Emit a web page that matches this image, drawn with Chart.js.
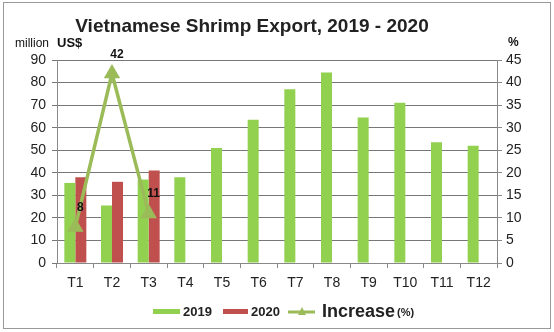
<!DOCTYPE html>
<html><head><meta charset="utf-8">
<script src="https://cdn.jsdelivr.net/npm/chart.js@4/dist/chart.umd.min.js"></script>
<style>html,body{margin:0;padding:0;background:#fff}#wrap{width:554px;height:332px;position:relative}</style>
</head><body><div id="wrap"><canvas id="c" width="554" height="332"></canvas></div>
<script>
const categories = ['T1','T2','T3','T4','T5','T6','T7','T8','T9','T10','T11','T12'];
const values2019 = [35.5, 25.5, 37, 38, 51, 63.5, 77, 84.5, 64.5, 71, 53.5, 52];
const values2020 = [38, 36, 41, null, null, null, null, null, null, null, null, null];
const increasePct = [8, 42, 11, null, null, null, null, null, null, null, null, null];
const leftTicks = [0,10,20,30,40,50,60,70,80,90];
const rightTicks = [0,5,10,15,20,25,30,35,40,45];

const GREEN = '#92D050', RED = '#C0504D', OLIVE = '#9BBB59';
const F = '"Liberation Sans", Arial, sans-serif';

const deco = {
  id: 'deco',
  afterDraw(chart) {
    const ctx = chart.ctx;
    ctx.save();
    // border
    ctx.strokeStyle = '#999'; ctx.lineWidth = 1;
    ctx.strokeRect(3.5, 2.5, 547, 326);
    // title
    ctx.fillStyle = '#222'; ctx.textBaseline = 'alphabetic'; ctx.textAlign = 'left';
    ctx.font = 'bold 19px ' + F;
    const t1 = 'Vietnamese Shrimp Export', t2 = ', 2019 - 2020';
    const w = ctx.measureText(t1 + t2).width;
    let x = 252 - w / 2;
    ctx.fillText(t1, x, 32);
    ctx.fillText(t2, x + ctx.measureText(t1).width, 32);
    // axis units
    ctx.fillStyle = '#111';
    ctx.font = '12px ' + F; ctx.fillText('million', 15, 47);
    ctx.font = 'bold 13px ' + F; ctx.fillText('US$', 57, 47);
    ctx.font = 'bold 12px ' + F; ctx.fillText('%', 508, 46);
    // data labels
    const meta = chart.getDatasetMeta(2);
    ctx.font = 'bold 12px ' + F; ctx.fillStyle = '#111'; ctx.textAlign = 'center';
    meta.data.forEach((p, i) => {
      if (increasePct[i] == null) return;
      ctx.fillText(String(increasePct[i]), p.x + 5, p.y - 16);
    });
    // legend
    const ly = 311;
    ctx.textAlign = 'left'; ctx.textBaseline = 'middle';
    ctx.fillStyle = GREEN; ctx.fillRect(153, ly - 2, 27, 5);
    ctx.fillStyle = '#222'; ctx.font = 'bold 13px ' + F; ctx.fillText('2019', 183, ly + 1);
    ctx.fillStyle = RED; ctx.fillRect(223, ly - 2, 25, 5);
    ctx.fillStyle = '#222'; ctx.fillText('2020', 251, ly + 1);
    ctx.strokeStyle = OLIVE; ctx.lineWidth = 3;
    ctx.beginPath(); ctx.moveTo(288, ly + 1); ctx.lineTo(315, ly + 1); ctx.stroke();
    ctx.fillStyle = OLIVE; ctx.beginPath();
    ctx.moveTo(302, ly - 4); ctx.lineTo(306, ly + 4); ctx.lineTo(298, ly + 4); ctx.closePath(); ctx.fill();
    ctx.fillStyle = '#222'; ctx.font = 'bold 18px ' + F; ctx.fillText('Increase', 322, ly + 1);
    ctx.font = 'bold 11px ' + F; ctx.fillText('(%)', 397, ly + 2);
    ctx.restore();
  }
};

new Chart(document.getElementById('c'), {
  type: 'bar',
  data: {
    labels: categories,
    datasets: [
      { label: '2019', data: values2019, backgroundColor: GREEN, yAxisID: 'y', order: 2,
        categoryPercentage: 0.6, barPercentage: 1.0 },
      { label: '2020', data: values2020, backgroundColor: RED, yAxisID: 'y', order: 2,
        categoryPercentage: 0.6, barPercentage: 1.0 },
      { type: 'line', label: 'Increase (%)', data: increasePct, yAxisID: 'y1', order: 0,
        borderColor: OLIVE, backgroundColor: OLIVE, borderWidth: 3.5, pointStyle: 'triangle',
        pointRadius: 6, pointBackgroundColor: OLIVE, pointBorderColor: OLIVE, spanGaps: false, tension: 0 }
    ]
  },
  options: {
    responsive: false, animation: false, devicePixelRatio: 1,
    layout: { padding: { top: 60, left: 0, right: 0, bottom: 0 } },
    plugins: { legend: { display: false }, title: { display: false }, tooltip: { enabled: false } },
    scales: {
      x: {
        grid: { display: true, drawOnChartArea: false, drawTicks: true, tickLength: 5, color: '#888', offset: true },
        border: { color: '#888' },
        ticks: { color: '#222', font: { family: F, size: 14 }, padding: 7, maxRotation: 0 },
        afterFit(s) { s.height = 69; }
      },
      y: {
        position: 'left', min: 0, max: 90,
        afterBuildTicks(s) { s.ticks = leftTicks.map(v => ({ value: v })); },
        grid: { color: '#777', tickLength: 5 },
        border: { color: '#888' },
        ticks: { color: '#222', font: { family: F, size: 14 }, padding: 6 },
        afterFit(s) { s.width = 57; }
      },
      y1: {
        position: 'right', min: 0, max: 45,
        afterBuildTicks(s) { s.ticks = rightTicks.map(v => ({ value: v })); },
        grid: { drawOnChartArea: false, tickLength: 5, color: '#888' },
        border: { color: '#888' },
        ticks: { color: '#222', font: { family: F, size: 14 }, padding: 4 },
        afterFit(s) { s.width = 57; }
      }
    }
  },
  plugins: [deco]
});
</script></body></html>
